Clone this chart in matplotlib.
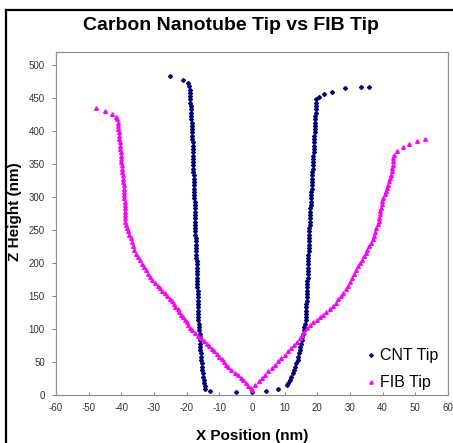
import matplotlib
matplotlib.use("Agg")
import matplotlib.pyplot as plt
from matplotlib.lines import Line2D

plt.rcParams['font.family'] = ['Liberation Sans', 'DejaVu Sans']
plt.rcParams['axes.unicode_minus'] = False

# CNT tip profile: top-left flare, left wall (down), bottom, right wall (up), top-right flare
cnt_left_x = [-25.2, -21.1, -19.5,
              -19.2, -19.1, -19.0, -19.0, -18.9, -18.9, -18.8, -18.7, -18.7, -18.6,
              -18.6, -18.5, -18.4, -18.4, -18.4, -18.3, -18.3, -18.2, -18.2, -18.2,
              -18.2, -18.1, -18.1, -18.1, -18.0, -18.0, -18.0, -17.9, -17.9, -17.8,
              -17.8, -17.8, -17.7, -17.7, -17.7, -17.6, -17.6, -17.6, -17.5, -17.5,
              -17.5, -17.5, -17.4, -17.4, -17.3, -17.3, -17.2, -17.2, -17.1, -17.1,
              -17.0, -17.0, -17.0, -16.9, -16.9, -16.9, -16.8, -16.8, -16.7, -16.7,
              -16.7, -16.7, -16.6, -16.6, -16.6, -16.6, -16.5, -16.5, -16.5, -16.5,
              -16.4, -16.4, -16.3, -16.2, -16.1, -16.0, -16.0, -15.9, -15.9, -15.8,
              -15.8, -15.7, -15.6, -15.5, -15.4, -15.3, -15.2, -15.1, -14.9, -14.8,
              -14.7, -14.5]
cnt_left_z = [483, 478, 473,
              468, 463, 458, 453, 448, 443, 438, 433, 428, 423,
              418, 413, 408, 403, 398, 393, 388, 383, 378, 373,
              368, 363, 358, 353, 348, 343, 338, 333, 328, 323,
              318, 313, 308, 303, 298, 293, 288, 283, 278, 273,
              268, 263, 258, 253, 248, 243, 238, 233, 228, 223,
              218, 213, 208, 203, 198, 193, 188, 183, 178, 173,
              168, 163, 158, 153, 148, 143, 138, 133, 128, 123,
              118, 113, 108, 103, 98, 93, 88, 83, 78, 73,
              68, 63, 58, 53, 48, 43, 38, 33, 28, 23,
              18, 13]
cnt_bottom_x = [-14.4, -12.8, -4.8, 0.0, 4.2, 8.0, 10.8]
cnt_bottom_z = [9, 6, 4.5, 4.5, 6, 9, 15]
cnt_right_x = [11.0, 11.6, 12.0, 12.4, 12.8, 13.2, 13.6, 14.0, 14.2, 14.4,
               14.6, 14.8, 15.0, 15.2, 15.4, 15.6, 15.8, 16.0, 16.2, 16.4,
               16.4, 16.5, 16.5, 16.6, 16.6, 16.7, 16.7, 16.8, 16.8, 16.9,
               16.9, 16.9, 17.0, 17.0, 17.0, 17.0, 17.1, 17.1, 17.2, 17.2,
               17.3, 17.3, 17.4, 17.4, 17.5, 17.5, 17.6, 17.6, 17.7, 17.7,
               17.8, 17.8, 17.9, 17.9, 18.0, 18.0, 18.1, 18.2, 18.2, 18.3,
               18.3, 18.4, 18.4, 18.5, 18.5, 18.6, 18.6, 18.7, 18.7, 18.8,
               18.9, 18.9, 19.0, 19.0, 19.1, 19.1, 19.2, 19.2, 19.3, 19.3,
               19.4, 19.4, 19.5, 19.5, 19.6, 19.6, 19.7,
               20.5, 21.9, 24.6, 28.4, 33.3, 35.8]
cnt_right_z = [18, 23, 28, 33, 38, 43, 48, 53, 58, 63,
               68, 73, 78, 83, 88, 93, 98, 103, 108, 113,
               118, 123, 128, 133, 138, 143, 148, 153, 158, 163,
               168, 173, 178, 183, 188, 193, 198, 203, 208, 213,
               218, 223, 228, 233, 238, 243, 248, 253, 258, 263,
               268, 273, 278, 283, 288, 293, 298, 303, 308, 313,
               318, 323, 328, 333, 338, 343, 348, 353, 358, 363,
               368, 373, 378, 383, 388, 393, 398, 403, 408, 413,
               418, 423, 428, 433, 438, 443, 448,
               452, 456, 460, 465, 467, 467]

# FIB tip profile
fib_left_x = [-47.8, -45.0, -42.9, -41.7,
              -41.3, -41.1, -41.0, -40.9, -40.8, -40.7, -40.6, -40.5, -40.4, -40.3,
              -40.2, -40.1, -40.1, -40.0, -39.9, -39.8, -39.7, -39.6, -39.5, -39.4,
              -39.3, -39.3, -39.2, -39.1, -39.1, -39.0, -39.0, -39.0, -38.9, -38.9,
              -38.9, -38.8, -38.6, -38.3, -38.0, -37.6, -37.1,
              -36.8, -36.4, -36.0, -35.6, -35.0, -34.3, -33.6, -33.0, -32.4, -31.8,
              -31.2, -30.6, -29.7, -28.9, -28.1, -27.4, -26.6, -25.9, -25.2, -24.6,
              -24.0, -23.5, -22.8, -22.2, -21.6, -21.1, -20.5, -20.0, -19.6, -19.0,
              -18.3, -17.4, -16.5, -15.7, -14.8, -13.9, -13.1, -12.3, -11.5, -10.7,
              -10.0, -9.3, -8.6, -7.9, -7.2, -6.3, -5.3, -4.2, -3.5, -2.7,
              -1.9, -1.2, -0.4, 0.1]
fib_left_z = [435, 430, 426, 421,
              418, 413, 408, 403, 398, 393, 388, 383, 378, 373,
              368, 363, 358, 353, 348, 343, 338, 333, 328, 323,
              318, 313, 308, 303, 298, 293, 288, 283, 278, 273,
              268, 263, 258, 253, 248, 243, 238,
              232, 226, 220, 214, 209, 204, 199, 194, 189, 184,
              179, 174, 170, 166, 162, 158, 154, 150, 146, 142,
              138, 134, 130, 126, 122, 118, 114, 110, 106, 102,
              98, 94, 90, 86, 82, 78, 74, 70, 66, 62,
              58, 54, 50, 46, 42, 38, 34, 30, 26, 22,
              18, 14, 11, 8]
fib_right_x = [1.0, 2.0, 3.0, 4.0, 5.0, 6.0, 7.0, 8.0, 9.0, 10.0,
               11.0, 12.0, 13.0, 13.8, 14.6, 15.3, 16.0, 16.8, 17.8, 18.8,
               19.8, 20.8, 21.8, 22.8, 23.8, 24.8, 25.6, 26.4, 27.2, 28.0,
               28.7, 29.4, 30.1, 30.7, 31.2, 31.7, 32.3, 33.0, 33.7, 34.3,
               34.8, 35.3, 35.8, 36.4, 36.9, 37.3, 37.7, 38.1, 38.5, 38.8,
               39.0, 39.2, 39.3, 39.5, 39.7, 39.9, 40.2, 40.6, 40.9, 41.2,
               41.6, 41.9, 42.2, 42.6, 42.9, 43.0, 43.1, 43.2, 43.3, 43.4,
               44.4, 46.2, 48.2, 50.6, 52.9]
fib_right_z = [15, 21, 26, 31, 36, 41, 46, 51, 56, 61,
               66, 71, 76, 81, 86, 91, 96, 101, 106, 110,
               114, 118, 122, 126, 130, 135, 140, 145, 150, 155,
               160, 166, 172, 178, 184, 190, 195, 200, 205, 210,
               215, 220, 226, 231, 236, 241, 247, 253, 259, 264,
               269, 274, 279, 284, 289, 294, 299, 304, 309, 314,
               319, 324, 329, 334, 339, 344, 349, 354, 359, 364,
               370, 376, 381, 385, 388]

cnt_x = cnt_left_x + cnt_bottom_x + cnt_right_x
cnt_z = cnt_left_z + cnt_bottom_z + cnt_right_z
fib_x = fib_left_x + fib_right_x
fib_z = fib_left_z + fib_right_z

fig = plt.figure(figsize=(4.53, 4.43), dpi=100)
ax = fig.add_axes([56 / 453, 1 - 395 / 443, 392 / 453, 343 / 443])

ax.plot(cnt_x, cnt_z, linestyle='none', marker='D', markersize=2.0,
        color='#000080', label='CNT Tip')
ax.plot(fib_x, fib_z, linestyle='none', marker='^', markersize=2.6,
        color='#ff00ff', label='FIB Tip')

ax.set_xlim(-60, 60)
ax.set_ylim(0, 520)
ax.set_xticks(range(-60, 61, 10))
ax.set_yticks(range(0, 501, 50))
for s in ax.spines.values():
    s.set_color('#909090')
    s.set_linewidth(0.9)
ax.tick_params(axis='x', direction='in', length=2.5, width=0.7, color='#808080',
               labelsize=7, labelcolor='#333333', pad=6)
ax.tick_params(axis='y', direction='out', length=3, width=0.7, color='#808080',
               labelsize=7, labelcolor='#333333', pad=5)

ax.set_xlabel('X Position (nm)', fontsize=11, fontweight='bold')
ax.set_ylabel('Z Height (nm)', fontsize=11, fontweight='bold')
ax.xaxis.set_label_coords(0.5, (395 - 436) / 343, transform=ax.transAxes)
ax.yaxis.set_label_coords((15 - 56) / 392, (395 - 212) / 343, transform=ax.transAxes)
ax.xaxis.label.set_va('center')
ax.yaxis.label.set_va('center')
fig.text(231 / 453, 1 - 25 / 443, 'Carbon Nanotube Tip vs FIB Tip',
         fontsize=14, fontweight='bold', ha='center', va='center')

ax.legend(loc='lower right', bbox_to_anchor=(1.0, -0.014), frameon=False,
          fontsize=11.5, handletextpad=0.0, labelspacing=0.75, borderpad=0.1,
          markerscale=0.9, handlelength=1.2)

# outer chart border (cut off on right and bottom)
fig.add_artist(Line2D([6 / 453, 6 / 453], [-0.05, 1 - 10 / 443],
                      transform=fig.transFigure, color='black', linewidth=1.6))
fig.add_artist(Line2D([6 / 453, 1.05], [1 - 10 / 443, 1 - 10 / 443],
                      transform=fig.transFigure, color='black', linewidth=1.6))

fig.savefig('out.png', dpi=100)
